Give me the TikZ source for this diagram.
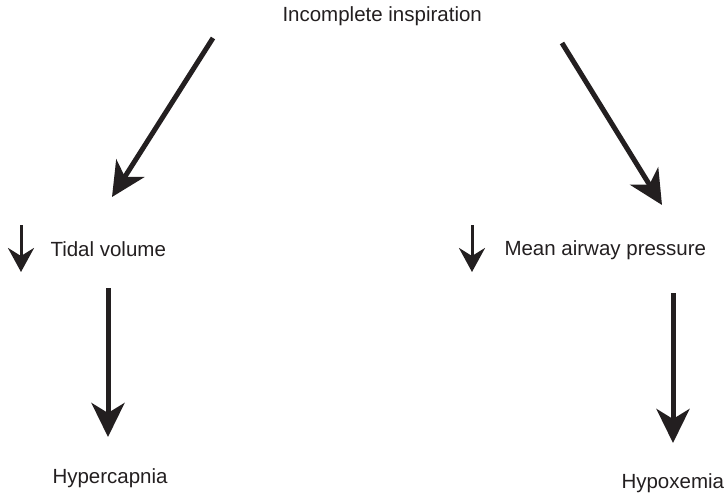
\documentclass[tikz,border=0pt]{standalone}
\usepackage{fontspec}
\setmainfont{Liberation Sans}
\usepackage{xcolor}
\usetikzlibrary{arrows.meta}
\definecolor{ink}{HTML}{231F20}

\begin{document}
\begin{tikzpicture}[x=1pt, y=-1pt, line width=5pt, ink,
  every node/.style={font=\fontsize{20.5}{25}\selectfont, inner sep=0pt, anchor=base west},
  bigarrow/.style={-{Stealth[length=34pt, width=33pt, inset=10pt]}},
  smallarrow/.style={line width=3pt, -{Stealth[length=24pt, width=26pt, inset=8pt]}}]
\useasboundingbox (0,0) rectangle (726,495);

\node (title) at (280,22) {Incomplete inspiration};

\node (tidal) at (48,256) {Tidal volume};
\node (mean) at (502,255) {Mean airway pressure};

\node (hcap) at (50,483) {Hypercapnia};
\node (hox) at (619,488) {Hypoxemia};

% arrow ends
\coordinate (l1) at (213,38);
\coordinate (l2) at (112,197);
\coordinate (r1) at (562,43);
\coordinate (r2) at (662,205);

\coordinate (t1) at (21,225);
\coordinate (t2) at (21,272);
\coordinate (m1) at (472,225);
\coordinate (m2) at (472,272);

\coordinate (c1) at (108,288);
\coordinate (c2) at (108,437);
\coordinate (x1) at (673,293);
\coordinate (x2) at (673,443);

\draw[bigarrow] (l1) -- (l2);
\draw[bigarrow] (r1) -- (r2);

\draw[smallarrow] (t1) -- (t2);
\draw[smallarrow] (m1) -- (m2);

\draw[bigarrow] (c1) -- (c2);
\draw[bigarrow] (x1) -- (x2);

\end{tikzpicture}
\end{document}
